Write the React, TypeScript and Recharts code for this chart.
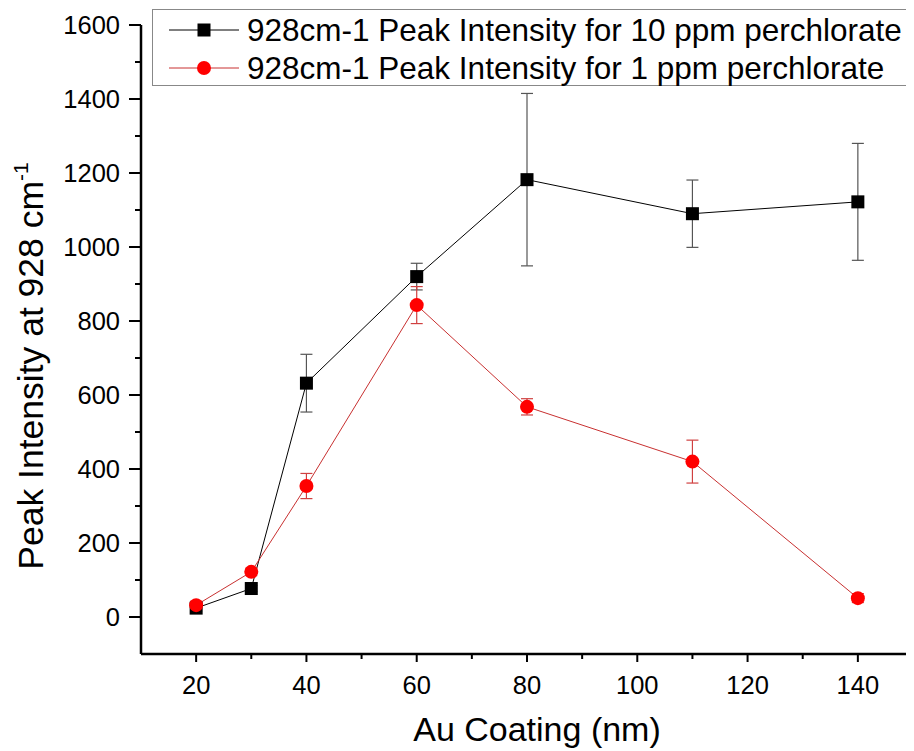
import React from 'react';
import { LineChart, Line, XAxis, YAxis, ErrorBar } from 'recharts';

const coating = [20, 30, 40, 60, 80, 110, 140];
const peak10 = [24, 77, 632, 920, 1182, 1090, 1122];
const err10 = [8, 8, 78, 36, 233, 91, 158];
const peak1 = [32, 122, 354, 843, 568, 420, 51];
const err1 = [10, 10, 34, 50, 22, 58, 12];

const xTicks = [10, 20, 30, 40, 50, 60, 70, 80, 90, 100, 110, 120, 130, 140, 150];
const xLabels = [20, 40, 60, 80, 100, 120, 140];
const yTicks = [-100, 0, 100, 200, 300, 400, 500, 600, 700, 800, 900, 1000, 1100, 1200, 1300, 1400, 1500, 1600];
const yLabels = [0, 200, 400, 600, 800, 1000, 1200, 1400, 1600];

const name10 = '928cm-1 Peak Intensity for 10 ppm perchlorate';
const name1 = '928cm-1 Peak Intensity for 1 ppm perchlorate';

const data = coating.map((c, i) => ({
  coating: c,
  p10: peak10[i],
  e10: err10[i],
  p1: peak1[i],
  e1: err1[i],
}));

const FONT = '"Liberation Sans", Arial, sans-serif';
const RED = '#ff0000';
const RED_LINE = '#c83030';

const XTick = (props: any) => {
  const { x, y, payload } = props;
  const v = payload.value;
  if (v === 10) return null;
  const major = xLabels.includes(v);
  return (
    <g>
      <line x1={x} x2={x} y1={y} y2={y + (major ? 8 : 5)} stroke="#000" strokeWidth={2} />
      {major && (
        <text x={x} y={y + 40} textAnchor="middle" fontSize={25.5} fontFamily={FONT} fill="#000">
          {v}
        </text>
      )}
    </g>
  );
};

const YTick = (props: any) => {
  const { x, y, payload } = props;
  const v = payload.value;
  if (v === -100) return null;
  const major = yLabels.includes(v);
  return (
    <g>
      <line x1={x} x2={x - (major ? 12 : 6)} y1={y} y2={y} stroke="#000" strokeWidth={2} />
      {major && (
        <text x={x - 21} y={y} dy="0.36em" textAnchor="end" fontSize={25.5} fontFamily={FONT} fill="#000">
          {v}
        </text>
      )}
    </g>
  );
};

const SquareDot = (props: any) => {
  const { cx, cy } = props;
  if (cx == null || cy == null) return null;
  return <rect x={cx - 6.5} y={cy - 6.5} width={13} height={13} fill="#000" />;
};

const CircleDot = (props: any) => {
  const { cx, cy } = props;
  if (cx == null || cy == null) return null;
  return <circle cx={cx} cy={cy} r={7} fill={RED} />;
};

const XTitle = (props: any) => {
  const { viewBox } = props;
  const cx = viewBox.x + viewBox.width / 2 + 10;
  return (
    <text x={cx} y={viewBox.y + 87} textAnchor="middle" fontSize={34} fontFamily={FONT} fill="#000">
      Au Coating (nm)
    </text>
  );
};

const YTitle = () => {
  const cx = 35;
  const cy = 358;
  return (
    <text
      x={cx}
      y={cy}
      transform={`rotate(-90, ${cx}, ${cy})`}
      textAnchor="middle"
      fontSize={35.5}
      fontFamily={FONT}
      fill="#000"
    >
      Peak Intensity at 928 cm
      <tspan fontSize={21} dy={-15}>-1</tspan>
    </text>
  );
};

const LegendBox = () => {
  const rows = [
    { name: name10, color: '#000', marker: 'square' },
    { name: name1, color: RED_LINE, marker: 'circle' },
  ];
  return (
    <div
      style={{
        position: 'absolute',
        left: 144,
        top: 1,
        border: '1px solid #888',
        width: 761,
        height: 77,
        boxSizing: 'border-box',
        background: '#fff',
        fontFamily: FONT,
      }}
    >
      {rows.map((r, i) => (
        <div key={i} style={{ display: 'flex', alignItems: 'center', height: 38, marginTop: i === 0 ? 1 : 0 }}>
          <svg width={94} height={30} style={{ flex: 'none' }}>
            <line x1={16} x2={86} y1={15} y2={15} stroke={r.color} strokeWidth={1} />
            {r.marker === 'square' ? (
              <rect x={44.5} y={8.5} width={13} height={13} fill="#000" />
            ) : (
              <circle cx={51} cy={15} r={7} fill={RED} />
            )}
          </svg>
          <span style={{ fontSize: 31.5, color: '#000', whiteSpace: 'nowrap', lineHeight: '32px' }}>{r.name}</span>
        </div>
      ))}
    </div>
  );
};

export default function App() {
  return (
    <div style={{ position: 'relative', width: 906, height: 743, background: '#fff' }}>
      <LineChart width={906} height={743} data={data} margin={{ top: 17, right: 1, left: 0, bottom: 0 }}>
        <XAxis
          dataKey="coating"
          type="number"
          domain={[10, 150]}
          ticks={xTicks}
          interval={0}
          tickLine={false}
          tickSize={0}
          tickMargin={0}
          tick={<XTick />}
          height={97}
          axisLine={{ stroke: '#000', strokeWidth: 2.5 }}
          allowDataOverflow
          label={<XTitle />}
        />
        <YAxis
          type="number"
          domain={[-100, 1600]}
          ticks={yTicks}
          interval={0}
          tickLine={false}
          tickSize={0}
          tickMargin={0}
          tick={<YTick />}
          width={133}
          axisLine={{ stroke: '#000', strokeWidth: 2.5 }}
          allowDataOverflow
          label={<YTitle />}
        />
        <Line
          dataKey="p10"
          name={name10}
          stroke="#000"
          strokeWidth={1}
          dot={<SquareDot />}
          activeDot={false}
          isAnimationActive={false}
        >
          <ErrorBar dataKey="e10" width={6} stroke="#555" strokeWidth={1.2} direction="y" />
        </Line>
        <Line
          dataKey="p1"
          name={name1}
          stroke={RED_LINE}
          strokeWidth={1}
          dot={<CircleDot />}
          activeDot={false}
          isAnimationActive={false}
        >
          <ErrorBar dataKey="e1" width={6} stroke="#d04040" strokeWidth={1.2} direction="y" />
        </Line>
      </LineChart>
      <LegendBox />
    </div>
  );
}
